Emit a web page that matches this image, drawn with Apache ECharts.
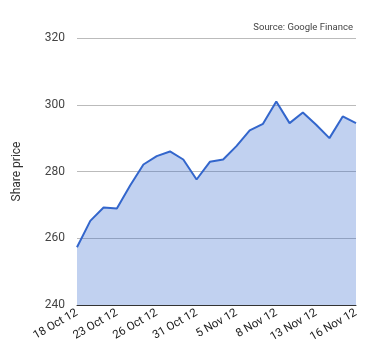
<!DOCTYPE html>
<html><head><meta charset="utf-8">
<script src="https://cdn.jsdelivr.net/npm/echarts@6/dist/echarts.min.js"></script>
<style>html,body{margin:0;padding:0;background:#fff}#c{width:380px;height:360px}</style>
</head><body><div id="c"></div>
<script>
var categories = ['18 Oct 12','19 Oct 12','22 Oct 12','23 Oct 12','24 Oct 12','25 Oct 12','26 Oct 12','29 Oct 12','30 Oct 12','31 Oct 12','1 Nov 12','2 Nov 12','5 Nov 12','6 Nov 12','7 Nov 12','8 Nov 12','9 Nov 12','12 Nov 12','13 Nov 12','14 Nov 12','15 Nov 12','16 Nov 12'];
var prices = [257.3,265.2,269.2,268.9,275.8,282.1,284.6,286.0,283.6,277.6,282.9,283.6,287.6,292.3,294.3,301.0,294.5,297.7,294.0,290.0,296.5,294.5];
var yTicks = {min:240, max:320, interval:20};

var chart = echarts.init(document.getElementById('c'));
chart.setOption({
  animation:false,
  textStyle:{fontFamily:'Roboto'},
  title:{text:'Source: Google Finance', right:27, top:23, padding:0, textStyle:{fontSize:9.5, fontWeight:'normal', color:'#444', fontFamily:'Roboto'}},
  grid:{left:77, right:24, top:38, bottom:55},
  xAxis:{type:'category', data:categories, boundaryGap:false,
    axisLine:{lineStyle:{color:'#333', width:1}}, axisTick:{show:false},
    axisLabel:{interval:2, rotate:30, fontSize:11.5, color:'#222', margin:7}},
  yAxis:{type:'value', min:yTicks.min, max:yTicks.max, interval:yTicks.interval,
    name:'Share price', nameLocation:'middle', nameGap:54, nameRotate:90,
    nameTextStyle:{fontSize:12, color:'#333'},
    axisLine:{show:false}, axisTick:{show:false},
    axisLabel:{fontSize:12, color:'#444', margin:12},
    splitLine:{lineStyle:{color:'#bbb'}}},
  series:[{type:'line', data:prices, symbol:'none', lineStyle:{color:'#3366cc', width:2},
    areaStyle:{color:'#3366cc', opacity:0.3, origin:'start'}}]
});
</script></body></html>
